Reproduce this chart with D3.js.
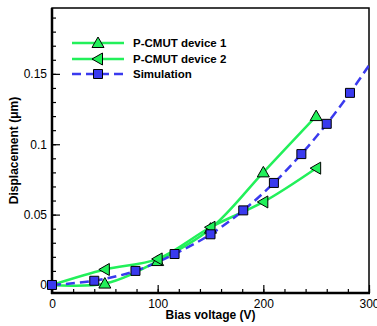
<!DOCTYPE html>
<html lang="en">
<head>
<meta charset="utf-8">
<title>Displacement vs bias voltage</title>
<script src="https://cdn.jsdelivr.net/npm/d3@7"></script>
<style>
  body { margin: 0; background: #fff; }
  text { font-family: "Liberation Sans", Arial, sans-serif; }
  .ttl { font-weight: bold; font-size: 12px; }
  .tick text { font-size: 12px; }
  .leg { font-weight: bold; font-size: 11.5px; }
</style>
</head>
<body>
<script>
// data
const dev1X = [0, 50, 100, 150, 200, 250];
const dev1Y = [0, 0.001, 0.017, 0.040, 0.080, 0.120];
const dev2X = [0, 50, 100, 150, 200, 250];
const dev2Y = [0, 0.011, 0.0185, 0.041, 0.059, 0.083];
const simX = [0, 40, 79, 116, 150, 181, 210, 236, 260, 282, 300];
const simY = [0, 0.003, 0.010, 0.022, 0.036, 0.053, 0.0725, 0.093, 0.1145, 0.1365, 0.156];
const legendNames = ["P-CMUT device 1", "P-CMUT device 2", "Simulation"];
const xTicks = [0, 100, 200, 300];
const yTicks = [0, 0.05, 0.1, 0.15];

const w = 377, h = 326;
const mLeft = 52, mRight = 369, mTop = 8, mBottom = 293;
const green = "#22f05a", blue = "#3a3aee";

const svg = d3.select("body").append("svg").attr("width", w).attr("height", h);

const x = d3.scaleLinear().domain([0, 300]).range([mLeft, mRight]);
const y = d3.scaleLinear().domain([-0.0057, 0.1968]).range([mBottom, mTop]);

svg.append("clipPath").attr("id", "clip")
  .append("rect").attr("x", mLeft).attr("y", mTop).attr("width", mRight - mLeft).attr("height", mBottom - mTop);

// minor ticks (inward)
const minorX = d3.range(0, 301, 20), minorY = d3.range(0, 0.1951, 0.01);
svg.append("g").attr("transform", `translate(0,${mBottom})`)
  .call(d3.axisBottom(x).tickValues(minorX).tickSize(-4).tickFormat(""))
  .call(g => g.select(".domain").remove());
svg.append("g").attr("transform", `translate(${mLeft},0)`)
  .call(d3.axisLeft(y).tickValues(minorY).tickSize(-4).tickFormat(""))
  .call(g => g.select(".domain").remove());

// major ticks
svg.append("g").attr("transform", `translate(0,${mBottom})`)
  .call(d3.axisBottom(x).tickValues(xTicks).tickSize(-8).tickFormat(d3.format("d")))
  .call(g => g.select(".domain").remove())
  .call(g => g.selectAll(".tick text").attr("dy", "0.9em").attr("y", 4));
svg.append("g").attr("transform", `translate(${mLeft},0)`)
  .call(d3.axisLeft(y).tickValues(yTicks).tickSize(-8).tickFormat(d => d === 0 ? "0" : String(+d.toFixed(2))))
  .call(g => g.select(".domain").remove())
  .call(g => g.selectAll(".tick text").attr("x", -5));
svg.selectAll(".tick line").attr("stroke", "#000").attr("stroke-width", 1.2);

// frame
svg.append("rect").attr("x", mLeft).attr("y", mTop).attr("width", mRight - mLeft).attr("height", mBottom - mTop)
  .attr("fill", "none").attr("stroke", "#000").attr("stroke-width", 1.5);
svg.append("line").attr("x1", mLeft).attr("x2", mLeft).attr("y1", mTop).attr("y2", mBottom + 1)
  .attr("stroke", "#000").attr("stroke-width", 2.5);
svg.append("line").attr("x1", mLeft - 1).attr("x2", mRight + 1).attr("y1", mBottom).attr("y2", mBottom)
  .attr("stroke", "#000").attr("stroke-width", 2.5);

// series
const line = d3.line().x(d => x(d[0])).y(d => y(d[1])).curve(d3.curveCatmullRom);
const plot = svg.append("g").attr("clip-path", "url(#clip)");
const d1 = dev1X.map((v, i) => [v, dev1Y[i]]);
const d2 = dev2X.map((v, i) => [v, dev2Y[i]]);
const sm = simX.map((v, i) => [v, simY[i]]);

plot.append("path").datum(d1).attr("d", line).attr("fill", "none").attr("stroke", green).attr("stroke-width", 2.5);
plot.append("path").datum(d2).attr("d", line).attr("fill", "none").attr("stroke", green).attr("stroke-width", 2.5);
plot.append("path").datum(sm).attr("d", line).attr("fill", "none").attr("stroke", blue)
  .attr("stroke-width", 2.5).attr("stroke-dasharray", "9,5");

const upTri = "M0,-6L6,4.5L-6,4.5Z";
const leftTri = "M-6,0L4.5,-6L4.5,6Z";
const square = "M-4.5,-4.5H4.5V4.5H-4.5Z";

function markers(data, shape, fill) {
  svg.append("g").selectAll("path").data(data).join("path")
    .attr("d", shape).attr("transform", d => `translate(${x(d[0])},${y(d[1])})`)
    .attr("fill", fill).attr("stroke", "#000").attr("stroke-width", 1);
}
markers(d1.slice(1), upTri, green);
markers(d2.slice(1), leftTri, green);
markers(sm.filter(d => d[0] < 300), square, blue);

// legend
const legY = [43, 59, 74];
const shapes = [upTri, leftTri, square];
legendNames.forEach((name, i) => {
  const g = svg.append("g");
  g.append("line").attr("x1", 72).attr("x2", 124).attr("y1", legY[i]).attr("y2", legY[i])
    .attr("stroke", i < 2 ? green : blue).attr("stroke-width", 2.5)
    .attr("stroke-dasharray", i < 2 ? null : "9,5");
  g.append("path").attr("d", shapes[i]).attr("transform", `translate(98,${legY[i]})`)
    .attr("fill", i < 2 ? green : blue).attr("stroke", "#000").attr("stroke-width", 1);
  g.append("text").attr("class", "leg").attr("x", 133).attr("y", legY[i] + 4).text(name);
});

// axis titles
svg.append("text").attr("class", "ttl").attr("x", (mLeft + mRight) / 2).attr("y", 319)
  .attr("text-anchor", "middle").text("Bias voltage (V)");
svg.append("text").attr("class", "ttl").attr("text-anchor", "middle")
  .attr("transform", `translate(18,${(mTop + mBottom) / 2}) rotate(-90)`).text("Displacement (\u03bcm)");
</script>
</body>
</html>
